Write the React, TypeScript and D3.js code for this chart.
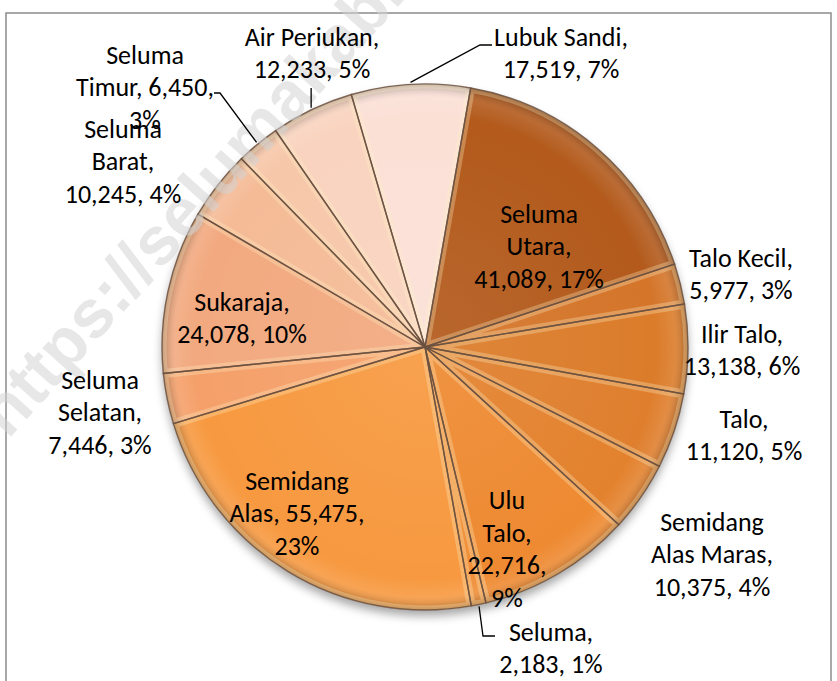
import * as d3 from "d3";

// kecamatan, jumlah penduduk (searah jarum jam dari atas)
const districts = [
  "Seluma Utara", "Talo Kecil", "Ilir Talo", "Talo", "Semidang Alas Maras",
  "Ulu Talo", "Seluma", "Semidang Alas", "Seluma Selatan", "Sukaraja",
  "Seluma Barat", "Seluma Timur", "Air Periukan", "Lubuk Sandi",
];
const population = [
  41089, 5977, 13138, 11120, 10375, 22716, 2183, 55475, 7446, 24078,
  10245, 6450, 12233, 17519,
];
// percentages as printed on the chart
const percents = [17, 3, 6, 5, 4, 9, 1, 23, 3, 10, 4, 3, 5, 7];

const colors = [
  "#b35a1b", "#d4752a", "#db7b2c", "#df7f2e", "#e3822f",
  "#ee8a33", "#f08f38", "#f7993f", "#f5a06a", "#f2a97f",
  "#f5bb97", "#f7c7a9", "#f9d3bf", "#fbe0d6",
];

// words per label line
const wraps = [
  [1, 1, 2], [2, 2], [2, 2], [1, 2], [1, 2, 2],
  [1, 1, 1, 1], [1, 2], [1, 2, 1], [1, 1, 2], [1, 2],
  [1, 1, 2], [1, 2, 1], [2, 2], [2, 2],
];
// label block centres
const labelAt: [number, number][] = [
  [539, 246], [741, 274], [742, 350], [744, 435], [712, 554],
  [507, 549], [551, 648], [297, 513], [100, 412], [242, 318],
  [123, 161], [145, 87], [312, 53], [561, 53],
];
// leader lines: index -> label-side points
const leaders: { i: number; pts: [number, number][] }[] = [
  { i: 13, pts: [[480, 45], [492, 45]] },
  { i: 12, pts: [[0, 88]] },
  { i: 11, pts: [[220, 93], [214, 93]] },
  { i: 6, pts: [[483, 636], [495, 636]] },
];

const W = 837;
const H = 681;
const cx = 425;
const cy = 347;
const R = 263;
const LINE = 32.5;
const FONT = "Carlito, Lato, 'Open Sans', sans-serif";

export default function App() {
  const start = (10 * Math.PI) / 180;
  const pie = d3
    .pie<number>()
    .sort(null)
    .value((d) => d)
    .startAngle(start)
    .endAngle(start + 2 * Math.PI);
  const arcs = pie(population);
  const arc = d3.arc<d3.PieArcDatum<number>>().innerRadius(0).outerRadius(R);
  const fmt = d3.format(",");

  const labelLines = districts.map((name, i) => {
    const words = `${name}, ${fmt(population[i])}, ${percents[i]}%`.split(" ");
    const out: string[] = [];
    let k = 0;
    wraps[i].forEach((n) => {
      out.push(words.slice(k, k + n).join(" "));
      k += n;
    });
    return out;
  });

  const edge = (i: number, r: number): [number, number] => {
    const a = (arcs[i].startAngle + arcs[i].endAngle) / 2;
    return [cx + r * Math.sin(a), cy - r * Math.cos(a)];
  };

  return (
    <svg
      width={W}
      height={H}
      style={{ position: "absolute", left: 0, top: 0, background: "#fff" }}
    >
      <defs>
        <filter id="shadow" x="-20%" y="-20%" width="140%" height="150%">
          <feDropShadow dx="0" dy="6" stdDeviation="5" floodColor="#000" floodOpacity="0.35" />
        </filter>
        <radialGradient id="rim" cx={0} cy={0} r={R} gradientUnits="userSpaceOnUse">
          <stop offset="0" stopColor="#fff" stopOpacity="0.08" />
          <stop offset="0.88" stopColor="#fff" stopOpacity="0" />
          <stop offset="0.95" stopColor="#fff" stopOpacity="0.1" />
          <stop offset="1" stopColor="#000" stopOpacity="0.28" />
        </radialGradient>
        {arcs.map((a, i) => (
          <clipPath id={`clip${i}`} key={i}>
            <path d={arc(a) || ""} />
          </clipPath>
        ))}
      </defs>

      <rect x={6} y={13} width={825} height={H + 20} fill="none" stroke="#8c8c8c" strokeWidth={1.5} />

      <g transform={`translate(${cx},${cy})`}>
        <g filter="url(#shadow)">
          {arcs.map((a, i) => (
            <path key={i} d={arc(a) || ""} fill={colors[i]} />
          ))}
        </g>
        {arcs.map((a, i) => (
          <g key={i} clipPath={`url(#clip${i})`}>
            <path d={arc(a) || ""} fill="url(#rim)" />
            <path d={arc(a) || ""} fill="none" stroke="#fff3c8" strokeOpacity={0.3} strokeWidth={9} />
          </g>
        ))}
        {arcs.map((a, i) => (
          <path key={i} d={arc(a) || ""} fill="none" stroke="#6a5040" strokeOpacity={0.85} strokeWidth={1.4} />
        ))}
      </g>

      <text
        transform="translate(8,440) rotate(-48)"
        fontFamily="Arial, 'Liberation Sans', sans-serif"
        fontWeight="bold"
        fontSize={68}
        fill="#d4d4d4"
        fillOpacity={0.55}
      >
        https://selumakab.go.id
      </text>

      {leaders.map(({ i, pts }) => {
        const p0 = edge(i, R + 2);
        const rest = pts.map(([x, y]) => [x === 0 ? p0[0] : x, y] as [number, number]);
        return (
          <path
            key={i}
            d={d3.line()([p0, ...rest]) || ""}
            fill="none"
            stroke="#000"
            strokeWidth={1.3}
          />
        );
      })}

      {labelLines.map((lines, i) => (
        <text
          key={i}
          fontFamily={FONT}
          fontSize={26}
          fill="#000"
          textAnchor="middle"
        >
          {lines.map((s, j) => (
            <tspan
              key={j}
              x={labelAt[i][0]}
              y={labelAt[i][1] + (j - (lines.length - 1) / 2) * LINE}
              dominantBaseline="central"
            >
              {s}
            </tspan>
          ))}
        </text>
      ))}
    </svg>
  );
}
